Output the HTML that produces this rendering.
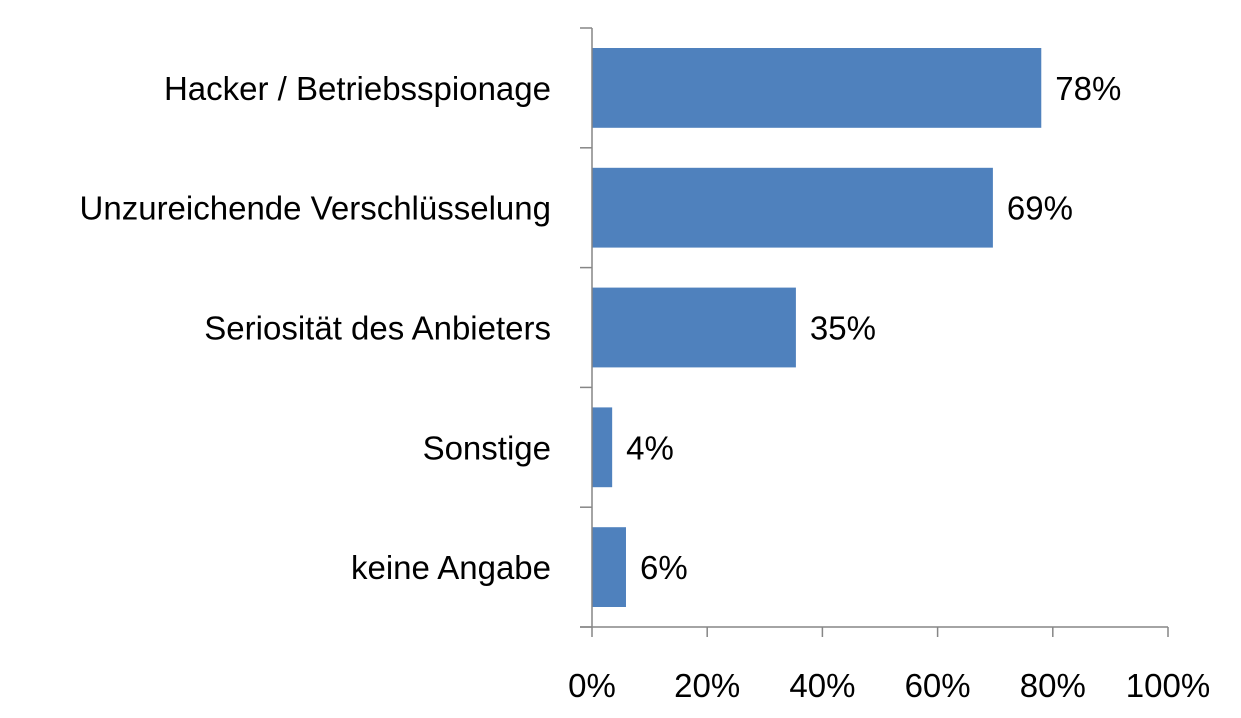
<!DOCTYPE html>
<html><head><meta charset="utf-8"><style>
html,body{margin:0;padding:0;background:#fff;}
svg{display:block;}
text{font-family:"Liberation Sans",sans-serif;fill:#000;}
</style></head><body>
<svg id="chart" width="1241" height="718"></svg>
<script>
const categories=["Hacker / Betriebsspionage","Unzureichende Verschlüsselung","Seriosität des Anbieters","Sonstige","keine Angabe"];
const values=[78,69.6,35.4,3.5,5.9];
const valueLabels=["78%","69%","35%","4%","6%"];
const ticks=[0,20,40,60,80,100];
const tickLabels=["0%","20%","40%","60%","80%","100%"];

const svg=document.getElementById('chart');
const NS="http://www.w3.org/2000/svg";
const x0=592,x1=1168,yTop=28,yBot=627;
const band=(yBot-yTop)/categories.length;
const xs=v=>x0+(v/100)*(x1-x0);
function mk(tag,attrs){const e=document.createElementNS(NS,tag);for(const k in attrs)e.setAttribute(k,attrs[k]);svg.appendChild(e);return e;}

categories.forEach((c,i)=>{
  const yb=yTop+i*band;
  const r=mk('rect',{x:x0,y:yb+20,width:xs(values[i])-x0,height:band-40,fill:'#4f81bd'});
  
  
  const t=mk('text',{x:551,y:yb+band/2+12,'text-anchor':'end','font-size':33});
  t.textContent=c;
  
  
  const v=mk('text',{x:xs(values[i])+14,y:yb+band/2+12,'font-size':33});
  v.textContent=valueLabels[i];
  
  
});
for(let i=0;i<=categories.length;i++){
  const y=yTop+i*band;
  const l=mk('line',{x1:580,x2:x0,y1:y,y2:y,stroke:'#868686','stroke-width':1.5});
  
  
}
const ya=mk('line',{x1:x0,x2:x0,y1:yTop,y2:yBot,stroke:'#868686','stroke-width':1.5});


const xa=mk('line',{x1:x0-12,x2:x1,y1:yBot,y2:yBot,stroke:'#868686','stroke-width':1.5});


ticks.forEach((t,i)=>{
  const l=mk('line',{x1:xs(t),x2:xs(t),y1:yBot,y2:yBot+10,stroke:'#868686','stroke-width':1.5});
  
  
  const tx=mk('text',{x:xs(t),y:697,'text-anchor':'middle','font-size':33});
  tx.textContent=tickLabels[i];
  
  
});
</script>
</body></html>
